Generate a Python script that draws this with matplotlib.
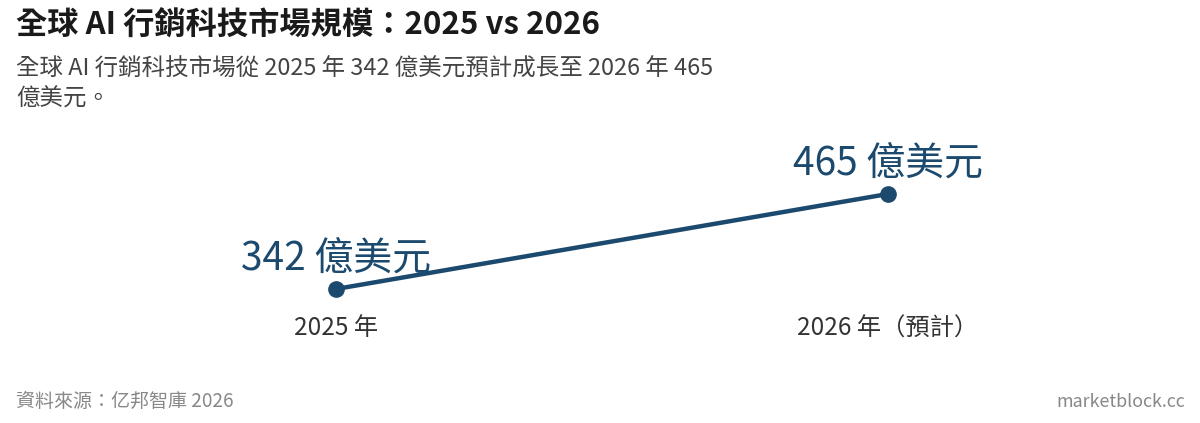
import matplotlib
matplotlib.use("Agg")
import matplotlib.pyplot as plt

plt.rcParams['font.family'] = ['Noto Sans CJK TC', 'DejaVu Sans']

# data
years = ["2025 年", "2026 年（預計）"]
values = [342, 465]
value_labels = ["342 億美元", "465 億美元"]

line_color = "#1b4a6e"

fig = plt.figure(figsize=(12, 4.23), dpi=100)
fig.patch.set_facecolor("white")

ax = fig.add_axes([0.28, 0.3168, 0.46, 0.2246])
x = list(range(len(values)))
ax.plot(x, values, color=line_color, linewidth=3.2, marker='o', markersize=11, clip_on=False)
ax.set_xlim(0, 1)
ax.set_ylim(342, 465)

for xi, v, lab in zip(x, values, value_labels):
    ax.annotate(lab, (xi, v), xytext=(0, 13), textcoords="offset points",
                ha="center", va="baseline", fontsize=28, color=line_color)

ax.set_xticks(x)
ax.set_xticklabels(years, fontsize=17.5, color="#333333")
ax.tick_params(axis="x", length=0, pad=19)
ax.set_yticks([])
for s in ax.spines.values():
    s.set_visible(False)
ax.patch.set_alpha(0)

fig.text(16/1200, 1 - 35/423, "全球 AI 行銷科技市場規模：2025 vs 2026",
         fontsize=22.5, fontweight="bold", color="#1a1a1a", va="baseline")
fig.text(16/1200, 1 - 76/423, "全球 AI 行銷科技市場從 2025 年 342 億美元預計成長至 2026 年 465",
         fontsize=16.9, color="#444444", va="baseline")
fig.text(16/1200, 1 - 106/423, "億美元。",
         fontsize=16.9, color="#444444", va="baseline")

fig.text(16/1200, 1 - 407/423, "資料來源：亿邦智庫 2026", fontsize=13.7, color="#888888", va="baseline")
fig.text(1185/1200, 1 - 407/423, "marketblock.cc", fontsize=12.9, color="#888888",
         va="baseline", ha="right")

fig.savefig("out.png", dpi=100, facecolor="white")
